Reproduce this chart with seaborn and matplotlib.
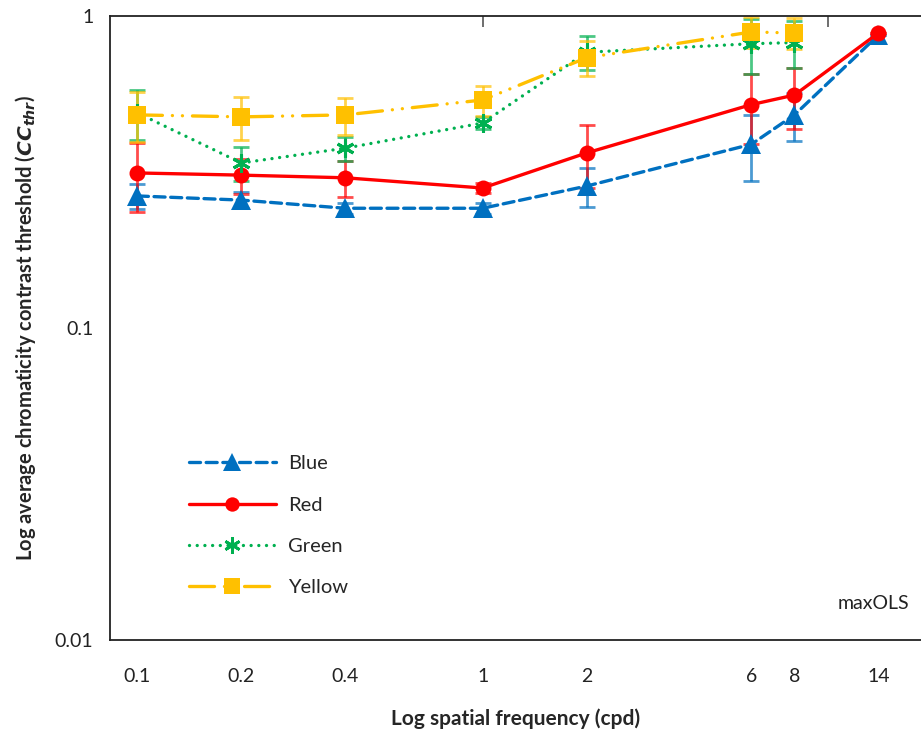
import matplotlib
matplotlib.use("Agg")
import matplotlib.pyplot as plt
import seaborn as sns
import pandas as pd
import numpy as np
from matplotlib.lines import Line2D

# ---- data ----
freqs = [0.1, 0.2, 0.4, 1, 2, 6, 8, 14]
tick_labels = ["0.1", "0.2", "0.4", "1", "2", "6", "8", "14"]

blue = [0.265, 0.257, 0.242, 0.242, 0.285, 0.388, 0.482, 0.869]
blue_err = [0.025, 0.015, 0.01, 0.01, 0.04, 0.092, 0.085, 0.0]
red = [0.314, 0.309, 0.303, 0.281, 0.364, 0.520, 0.558, 0.882]
red_err = [0.079, 0.04, 0.04, 0.01, 0.083, 0.13, 0.125, 0.0]
green = [0.489, 0.338, 0.377, 0.454, 0.765, 0.815, 0.822]
green_err = [0.09, 0.042, 0.033, 0.02, 0.095, 0.165, 0.14]
yellow = [0.482, 0.475, 0.482, 0.538, 0.735, 0.889, 0.882]
yellow_err = [0.087, 0.075, 0.065, 0.06, 0.095, 0.1, 0.1]

series_names = ["Blue", "Red", "Green", "Yellow"]
series_vals = [blue, red, green, yellow]
series_errs = [blue_err, red_err, green_err, yellow_err]

rows = []
for name, vals in zip(series_names, series_vals):
    for f, v in zip(freqs, vals):
        rows.append({"freq": f, "value": v, "series": name})
df = pd.DataFrame(rows)

sns.set_theme(style="white")
plt.rcParams["font.family"] = ["Lato", "DejaVu Sans"]

colors = {"Blue": "#0070C0", "Red": "#FF0000", "Green": "#00B050", "Yellow": "#FFC000"}
dashes = {"Blue": (0, (3.3, 1.7)), "Red": "-", "Green": (0, (0.01, 2.3)),
          "Yellow": (0, (7.5, 3, 0.01, 3, 0.01, 3))}
markers = {"Blue": "^", "Red": "o", "Green": (6, 2, 0), "Yellow": "s"}
msizes = {"Blue": 14, "Red": 11.5, "Green": 13, "Yellow": 12.5}
medge = {"Blue": 0, "Red": 0, "Green": 2.2, "Yellow": 0}

fig = plt.figure(figsize=(9.21, 7.38), dpi=100)
ax = fig.add_axes([110 / 921, 1 - 640 / 738, 1 - 110 / 921, (640 - 16) / 738])

# error bars
for name, vals, errs in zip(series_names, series_vals, series_errs):
    ax.errorbar(freqs[:len(vals)], vals, yerr=errs, fmt="none", ecolor=colors[name],
                alpha=0.7, elinewidth=2, capsize=6, capthick=2, zorder=2)

for name in series_names:
    sub = df[df["series"] == name]
    sns.lineplot(data=sub, x="freq", y="value", color=colors[name],
                 linestyle=dashes[name], marker=markers[name],
                 markersize=msizes[name], markeredgewidth=medge[name],
                 markeredgecolor=colors[name], linewidth=2.4, ax=ax,
                 dash_capstyle="round", zorder=3)

ax.set_xscale("log")
ax.set_yscale("log")
ax.set_xlim(0.0833, 18.6)
ax.set_ylim(0.01, 1)

ax.set_xticks(freqs)
ax.set_xticklabels(tick_labels)
ax.xaxis.set_minor_locator(matplotlib.ticker.NullLocator())
ax.tick_params(axis="x", which="both", length=0, pad=20, labelsize=14, colors="#222222")
ax.set_yticks([0.01, 0.1, 1])
ax.set_yticklabels(["0.01", "0.1", "1"])
ax.yaxis.set_minor_locator(matplotlib.ticker.NullLocator())
ax.tick_params(axis="y", which="both", length=0, pad=12, labelsize=14, colors="#222222")

# top spine ticks at decades
sec = ax.secondary_xaxis("top")
sec.set_xticks([1, 10])
sec.xaxis.set_minor_locator(matplotlib.ticker.NullLocator())
sec.tick_params(axis="x", which="both", direction="in", length=8, width=1.2,
                labeltop=False, colors="#555555")
for s in sec.spines.values():
    s.set_visible(False)

for side in ["left", "bottom", "top"]:
    ax.spines[side].set_visible(True)
    ax.spines[side].set_color("#222222")
    ax.spines[side].set_linewidth(1.3)
ax.spines["right"].set_visible(False)

ax.set_xlabel("Log spatial frequency (cpd)", fontsize=15, fontweight="bold", labelpad=17)
ax.set_ylabel(r"Log average chromaticity contrast threshold ($\mathbfit{CC}_{\mathbfit{thr}}$)",
              fontsize=14.5, fontweight="bold", labelpad=12)

ax.text(0.985, 0.045, "maxOLS", transform=ax.transAxes, ha="right", va="bottom",
        fontsize=14, color="#222222")

handles = []
for name in series_names:
    handles.append(Line2D([0], [0], color=colors[name], linewidth=2.4, linestyle=dashes[name],
                          marker=markers[name], markersize=msizes[name] * 0.9,
                          markeredgewidth=2 if name == "Green" else 0,
                          markeredgecolor=colors[name], dash_capstyle="round"))
ax.legend(handles, series_names, loc="upper left", bbox_to_anchor=(0.075, 0.325),
          frameon=False, fontsize=14.5, handlelength=4.3, labelspacing=1.2,
          handletextpad=0.6)

fig.savefig("out.png", dpi=100)
